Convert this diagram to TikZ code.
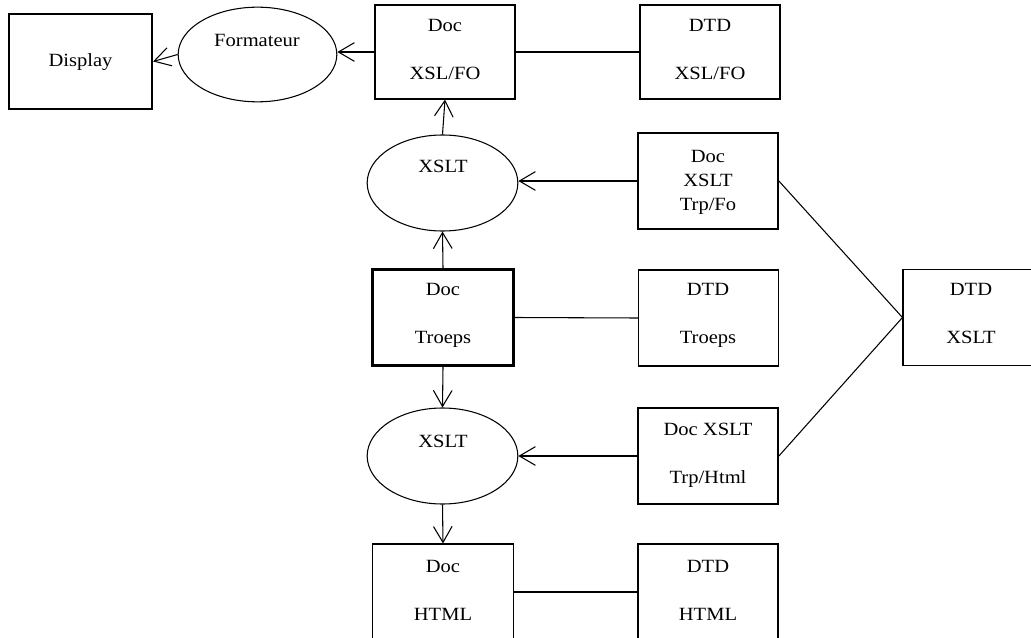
\documentclass[tikz,border=0pt]{standalone}
\usepackage{fontspec}
\setmainfont{Liberation Serif}[FakeStretch=1.1]
\usetikzlibrary{arrows.meta,shapes.geometric}

\tikzset{
  px/.style={x=0.75pt,y=-0.75pt},
  thinline/.style={line width=0.8pt},
  boxbase/.style={draw,rectangle,inner sep=0pt,thinline},
  docbox/.style={boxbase,minimum width=105pt,minimum height=72pt},
  heavybox/.style={line width=1.9pt},
  midbox/.style={line width=1.3pt},
  procnode/.style={draw,ellipse,inner sep=0pt,thinline},
  lbl/.style={anchor=base,inner sep=0pt,font=\fontsize{14}{16}\selectfont},
  flow/.style={thinline,-{Straight Barb[length=12pt,width=14pt,line width=0.8pt]}},
  link/.style={thinline}
}

\begin{document}
\begin{tikzpicture}[px]
\useasboundingbox (0,0) rectangle (1031,638);
\clip (0,0) rectangle (1031,638);

% output chain
\node[boxbase,heavybox,minimum width=107pt,minimum height=71pt] (display) at (80.5,61.5) {};
\node[procnode,minimum width=119pt,minimum height=71pt] (formateur) at (257.5,54.5) {};
\node[docbox,minimum height=70.5pt] (docfo) at (445,52) {};
\node[docbox,minimum height=70.5pt] (dtdfo) at (710,52) {};

% transformation to FO
\node[procnode,minimum width=113pt,minimum height=72pt] (xsltfo) at (442.5,183) {};
\node[docbox,midbox] (trpfo) at (708,181) {};

% source document
\node[docbox,heavybox,minimum width=106pt] (doctroeps) at (443,317.5) {};
\node[docbox] (dtdtroeps) at (708.5,318) {};
\node[docbox] (dtdxslt) at (973,317.5) {};

% transformation to HTML
\node[procnode,minimum width=113pt,minimum height=72pt] (xslthtml) at (442.5,456) {};
\node[docbox,midbox] (trphtml) at (708,456) {};
\node[docbox,minimum width=106pt] (dochtml) at (443,592) {};
\node[docbox] (dtdhtml) at (708,592) {};

% labels
\node[lbl] (t-display) at (80.5,67) {Display};
\node[lbl] (t-formateur) at (257,47) {Formateur};
\node[lbl] (t-docfo1) at (445,32) {Doc};
\node[lbl] (t-docfo2) at (445,80) {XSL/FO};
\node[lbl] (t-dtdfo1) at (710,32) {DTD};
\node[lbl] (t-dtdfo2) at (710,80) {XSL/FO};
\node[lbl] (t-xsltfo) at (443,172) {XSLT};
\node[lbl] (t-trpfo1) at (708,162) {Doc};
\node[lbl] (t-trpfo2) at (708,186) {XSLT};
\node[lbl] (t-trpfo3) at (708,210) {Trp/Fo};
\node[lbl] (t-doctr1) at (443,295) {Doc};
\node[lbl] (t-doctr2) at (443,343) {Troeps};
\node[lbl] (t-dtdtr1) at (708,295) {DTD};
\node[lbl] (t-dtdtr2) at (708,343) {Troeps};
\node[lbl] (t-dtdx1) at (971,295) {DTD};
\node[lbl] (t-dtdx2) at (971,343) {XSLT};
\node[lbl] (t-xslthtml) at (443,447) {XSLT};
\node[lbl] (t-trph1) at (708,435) {Doc XSLT};
\node[lbl] (t-trph2) at (708,483) {Trp/Html};
\node[lbl] (t-doch1) at (443,572) {Doc};
\node[lbl] (t-doch2) at (443,620) {HTML};
\node[lbl] (t-dtdh1) at (708,572) {DTD};
\node[lbl] (t-dtdh2) at (708,620) {HTML};

% connectors
\draw[flow] (docfo.west) -- (docfo.west -| formateur.east);
\draw[flow] (formateur.west) -- (display.east);
\draw[link] (dtdfo.west) -- (docfo.east);
\draw[flow] (xsltfo.north) -- (docfo.south);
\draw[flow] (trpfo.west) -- (trpfo.west -| xsltfo.east);
\draw[flow] (doctroeps.north) -- (xsltfo.south);
\draw[link] (dtdtroeps.west) -- (doctroeps.east);
\draw[flow] (doctroeps.south) -- (xslthtml.north);
\draw[flow] (trphtml.west) -- (trphtml.west -| xslthtml.east);
\draw[flow] (xslthtml.south) -- (dochtml.north);
\draw[link] (dtdhtml.west) -- (dochtml.east);
\draw[link] (trpfo.east) -- (dtdxslt.west);
\draw[link] (trphtml.east) -- (dtdxslt.west);
\end{tikzpicture}
\end{document}
